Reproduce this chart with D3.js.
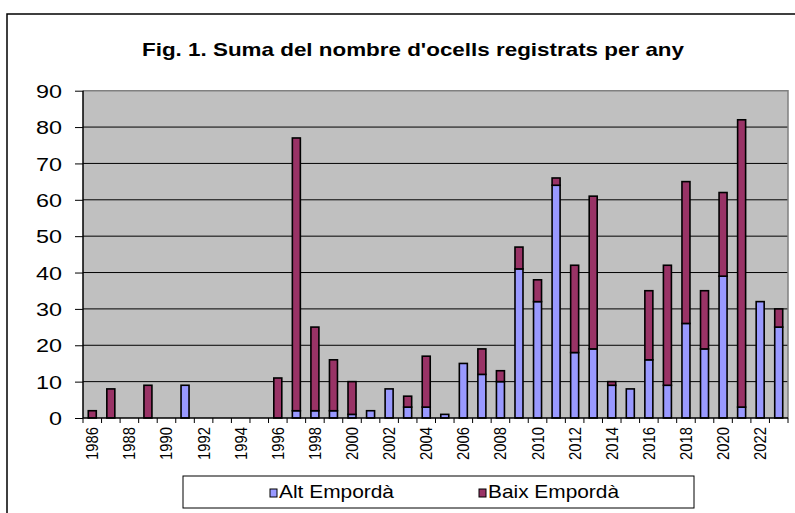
<!DOCTYPE html>
<html>
<head>
<meta charset="utf-8">
<script src="https://cdn.jsdelivr.net/npm/d3@7"></script>
<style>
  html, body { margin: 0; padding: 0; background: #fff; }
  svg { display: block; font-family: "Liberation Sans", Arial, sans-serif; }
</style>
</head>
<body>
<svg id="chart" width="795" height="513"></svg>
<script>
const years = [1986,1987,1988,1989,1990,1991,1992,1993,1994,1995,1996,1997,1998,1999,2000,2001,2002,2003,2004,2005,2006,2007,2008,2009,2010,2011,2012,2013,2014,2015,2016,2017,2018,2019,2020,2021,2022,2023];
const altEmporda  = [0,0,0,0,0,9,0,0,0,0,0,2,2,2,1,2,8,3,3,1,15,12,10,41,32,64,18,19,9,8,16,9,26,19,39,3,32,25];
const baixEmporda = [2,8,0,9,0,0,0,0,0,0,11,75,23,14,9,0,0,3,14,0,0,7,3,6,6,2,24,42,1,0,19,33,39,16,23,79,0,5];
const yTicks = [0,10,20,30,40,50,60,70,80,90];
const xTickLabels = years.filter((y,i) => i % 2 === 0);
const seriesNames = ["Alt Empordà", "Baix Empordà"];
const colors = ["#9999FF", "#993366"];
const title = "Fig. 1. Suma del nombre d'ocells registrats per any";

const svg = d3.select("#chart");

// outer frame
svg.append("rect").attr("x", 7).attr("y", 14).attr("width", 800).attr("height", 520)
  .attr("fill", "none").attr("stroke", "#000").attr("stroke-width", 1.5);

const L = 83, R = 788, T = 90.7, B = 418;
const x = d3.scaleBand().domain(years).range([L, R]).padding(0);
const y = d3.scaleLinear().domain([0, 90]).range([B, T]);

// plot background
svg.append("rect").attr("x", L).attr("y", T).attr("width", R - L).attr("height", B - T)
  .attr("fill", "#C0C0C0");

// gridlines
svg.append("g").selectAll("line").data(yTicks.filter(d => d > 0 && d < 90)).join("line")
  .attr("x1", L).attr("x2", R).attr("y1", d => y(d)).attr("y2", d => y(d))
  .attr("stroke", "#000").attr("stroke-width", 1);

// plot border top/right gray
svg.append("path").attr("d", `M${L},${T}H${R}V${B}`).attr("fill", "none")
  .attr("stroke", "#808080").attr("stroke-width", 1.5);

// stacked data
const rows = years.map((yr, i) => ({year: yr, a: altEmporda[i], b: baixEmporda[i]}));
const stack = d3.stack().keys(["a", "b"])(rows);
const barW = 8;
stack.forEach((layer, k) => {
  svg.append("g").selectAll("rect").data(layer.filter(d => d[1] - d[0] > 0)).join("rect")
    .attr("x", d => x(d.data.year) + x.bandwidth() / 2 - barW / 2)
    .attr("width", barW)
    .attr("y", d => y(d[1]))
    .attr("height", d => y(d[0]) - y(d[1]))
    .attr("fill", colors[k])
    .attr("stroke", "#000").attr("stroke-width", 1.6);
});

// y axis
const yAxis = svg.append("g").attr("transform", `translate(${L},0)`)
  .call(d3.axisLeft(y).tickValues(yTicks).tickSize(8).tickPadding(13).tickFormat(d3.format("d")));
yAxis.select(".domain").attr("stroke", "#000").attr("stroke-width", 1.5).attr("d", `M0,${T}V${B}`);
yAxis.selectAll(".tick line").attr("stroke", "#000");
yAxis.selectAll(".tick text")
  .attr("font-size", 18.5).attr("fill", "#000").attr("font-family", "Liberation Sans, Arial, sans-serif")
  .attr("textLength", d => String(d).length * 13).attr("lengthAdjust", "spacingAndGlyphs")
  .attr("dy", "0.36em");

// x axis line
svg.append("line").attr("x1", L).attr("x2", R).attr("y1", B).attr("y2", B)
  .attr("stroke", "#000").attr("stroke-width", 1.5);
// x ticks at category boundaries
const bounds = years.map(yr => x(yr)).concat([x(years[years.length - 1]) + x.bandwidth()]);
svg.append("g").selectAll("line").data(bounds).join("line")
  .attr("x1", d => d).attr("x2", d => d).attr("y1", B).attr("y2", B + 5)
  .attr("stroke", "#000").attr("stroke-width", 1);
// x labels
svg.append("g").selectAll("text").data(xTickLabels).join("text")
  .attr("transform", d => `translate(${x(d) + x.bandwidth() / 2 + 6},${B + 9}) rotate(-90)`)
  .attr("text-anchor", "end")
  .attr("font-size", 17)
  .attr("textLength", 33).attr("lengthAdjust", "spacingAndGlyphs")
  .attr("fill", "#000")
  .text(d => d);

// title
svg.append("text").attr("x", 142).attr("y", 56)
  .attr("font-size", 19).attr("font-weight", "bold")
  .attr("textLength", 542).attr("lengthAdjust", "spacingAndGlyphs")
  .attr("fill", "#000").text(title);

// legend
svg.append("rect").attr("x", 183).attr("y", 476).attr("width", 511).attr("height", 32)
  .attr("fill", "#fff").attr("stroke", "#000").attr("stroke-width", 1);
const legendX = [270, 479];
const legendLen = [115, 131];
seriesNames.forEach((name, k) => {
  svg.append("rect").attr("x", legendX[k]).attr("y", 489).attr("width", 7).attr("height", 8)
    .attr("fill", colors[k]).attr("stroke", "#000").attr("stroke-width", 1);
  svg.append("text").attr("x", legendX[k] + 9).attr("y", 498)
    .attr("font-size", 18.5).attr("fill", "#000")
    .attr("textLength", legendLen[k]).attr("lengthAdjust", "spacingAndGlyphs")
    .text(name);
});
</script>
</body>
</html>
